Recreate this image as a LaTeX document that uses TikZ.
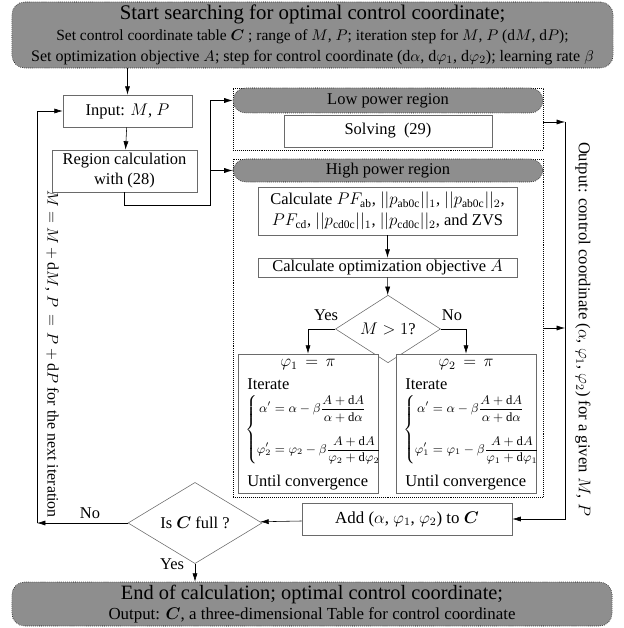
\documentclass[tikz,border=0pt]{standalone}
\usepackage{amsmath}
\usepackage{fontspec}
\setmainfont{Liberation Serif}
\usetikzlibrary{arrows.meta,positioning,shapes.geometric}
\definecolor{HeadGray}{HTML}{8E8E8E}
\definecolor{BoxLine}{HTML}{6A6A6A}
\newcommand{\eqsize}{\fontsize{9}{11}\selectfont}

\begin{document}
\begin{tikzpicture}[x=0.025cm, y=-0.025cm, font=\fontsize{11.7}{14.2}\selectfont,
  >={Latex[length=6pt,width=3.6pt]},
  headbox/.style={draw, densely dotted, fill=HeadGray, rounded corners=9pt, inner sep=0pt, align=center},
  procbox/.style={draw=BoxLine, fill=white, inner sep=0pt, align=center},
  regionbox/.style={draw, densely dotted, inner sep=0pt},
  decide/.style={diamond, draw=BoxLine, inner sep=0pt},
  iterbox/.style={procbox, minimum width=3.5cm, minimum height=3.475cm},
  inbox/.style={anchor=west, inner sep=0pt}]
  \useasboundingbox (0,0) rectangle (623,628);

  % start / end
  \node[headbox, minimum width=15.025cm, minimum height=1.65cm, font=\fontsize{11}{15}\selectfont] (start) at (312.5,35)
    {{\fontsize{14.8}{15}\selectfont Start searching for optimal control coordinate;}\\
     Set control coordinate table $\boldsymbol{C}$ ; range of $M$, $P$; iteration step for $M$, $P$ (d$M$, d$P$);\\
     {\fontsize{11.4}{15}\selectfont Set optimization objective $A$; step for control coordinate (d$\alpha$, d$\varphi_1$, d$\varphi_2$); learning rate $\beta$}};
  \node[headbox, minimum width=15cm, minimum height=1.1cm, font=\fontsize{12}{13.8}\selectfont] (finish) at (312,604)
    {{\fontsize{14.5}{14}\selectfont End of calculation; optimal control coordinate;}\\
     Output: $\boldsymbol{C}$, a three-dimensional Table for control coordinate};

  % left column
  \node[rotate=-90, font=\fontsize{11.3}{13}\selectfont] (nexttxt) at (52,354)
    {$M=M+\mathrm{d}M$, $P\,=\,P+\mathrm{d}P$ for the next iteration};
  \node[procbox, minimum width=3.225cm, minimum height=0.8cm] (input) at (127.5,111) {Input: $M$, $P$};
  \node[procbox, minimum width=3.625cm, minimum height=1.05cm] (region) at (124.5,171) {Region calculation\\with (28)};

  % low power region
  \node[regionbox, minimum width=7.75cm, minimum height=1.55cm] (lowbox) at (388,119) {};
  \node[headbox, minimum width=7.75cm, minimum height=0.625cm] (lowhead) at (388,100.5) {Low power region};
  \node[procbox, minimum width=5.2cm, minimum height=0.8cm] (solve) at (388,131) {Solving\enspace(29)};

  % high power region
  \node[regionbox, minimum width=7.75cm, minimum height=8.45cm] (highbox) at (388,328) {};
  \node[headbox, minimum width=7.75cm, minimum height=0.575cm] (highhead) at (388,170.5) {High power region};
  \node[procbox, minimum width=6.475cm, minimum height=1.2cm, font=\fontsize{11.7}{15}\selectfont] (calcpf) at (387.5,211)
    {Calculate $PF_{\mathrm{ab}}$, $||p_{\mathrm{ab0c}}||_1$, $||p_{\mathrm{ab0c}}||_2$,\\
     $PF_{\mathrm{cd}}$, $||p_{\mathrm{cd0c}}||_1$, $||p_{\mathrm{cd0c}}||_2$, and ZVS};
  \node[procbox, minimum width=6.475cm, minimum height=0.475cm] (calcA) at (387.5,267.5) {Calculate optimization objective $A$};
  \node[decide, minimum width=2.625cm, minimum height=1.2cm] (bigM) at (388,329) {$M>1$?};
  \node at (326,315) (yes1) {Yes};
  \node at (452,315) (no1) {No};

  % the two iterations
  \node[iterbox] (yesbox) at (308,423.5) {};
  \node[below=4pt of yesbox.north, inner sep=0pt] (phione) {$\varphi_1\,=\,\pi$};
  \node[inbox] (yesit) at (247,384) {Iterate};
  \node[inbox] (yeseq) at (245,430)
    {\eqsize$\left\{\begin{aligned}
       \alpha' &= \alpha-\beta\dfrac{A+\mathrm{d}A}{\alpha+\mathrm{d}\alpha}\\[6pt]
       \varphi_2' &= \varphi_2-\beta\dfrac{A+\mathrm{d}A}{\varphi_2+\mathrm{d}\varphi_2}
     \end{aligned}\right.$};
  \node[inbox] (yesuntil) at (247,483) {Until convergence};
  \node[iterbox] (nobox) at (466,423.5) {};
  \node[below=4pt of nobox.north, inner sep=0pt] (phitwo) {$\varphi_2\,=\,\pi$};
  \node[inbox] (noit) at (405,384) {Iterate};
  \node[inbox] (noeq) at (403,430)
    {\eqsize$\left\{\begin{aligned}
       \alpha' &= \alpha-\beta\dfrac{A+\mathrm{d}A}{\alpha+\mathrm{d}\alpha}\\[6pt]
       \varphi_1' &= \varphi_1-\beta\dfrac{A+\mathrm{d}A}{\varphi_1+\mathrm{d}\varphi_1}
     \end{aligned}\right.$};
  \node[inbox] (nountil) at (405,483) {Until convergence};

  % collect results
  \node[procbox, minimum width=5.25cm, minimum height=0.8cm, font=\fontsize{12}{13}\selectfont] (add) at (407,519)
    {Add ($\alpha$, $\varphi_1$, $\varphi_2$) to $\boldsymbol{C}$};
  \node[decide, minimum width=3.35cm, minimum height=1.35cm] (full) at (195,523) {Is $\boldsymbol{C}$ full ?};
  \node at (90,513) (no2) {No};
  \node at (172,564) (yes2) {Yes};

  \coordinate (split) at (210,205);
  \coordinate (outtop) at (565,122);
  \coordinate (outbot) at (565,519);
  \coordinate (loop) at (37,523);

  \node[rotate=-90, font=\fontsize{11.8}{13}\selectfont] (outtxt) at (583,329)
    {Output: control coordinate ($\alpha$, $\varphi_1$, $\varphi_2$) for a given $M$, $P$};

  % connectors
  \draw[->] (input.north |- start.south) -- (input.north);
  \draw[->] (input) -- (region);
  \draw[->] (region.south) |- (split) |- (highhead.west);
  \draw[->] (split) |- (lowhead.west);
  \draw[->] (calcpf) -- (calcA);
  \draw[->] (calcA) -- (bigM);
  \draw[->] (bigM.west) -| (yesbox.north);
  \draw[->] (bigM.east) -| (nobox.north);
  \draw[->] (lowbox.east |- outtop) -- (outtop);
  \draw[->] (highbox.east) -- (highbox.east -| outtop);
  \draw[->] (outtop) -- (outbot) -- (add.east);
  \draw[->] (add) -- (full);
  \draw[->] (full) -- (loop);
  \draw[->] (loop) |- (input.west);
  \draw[->] (full) -- (finish.north -| full);
\end{tikzpicture}
\end{document}
